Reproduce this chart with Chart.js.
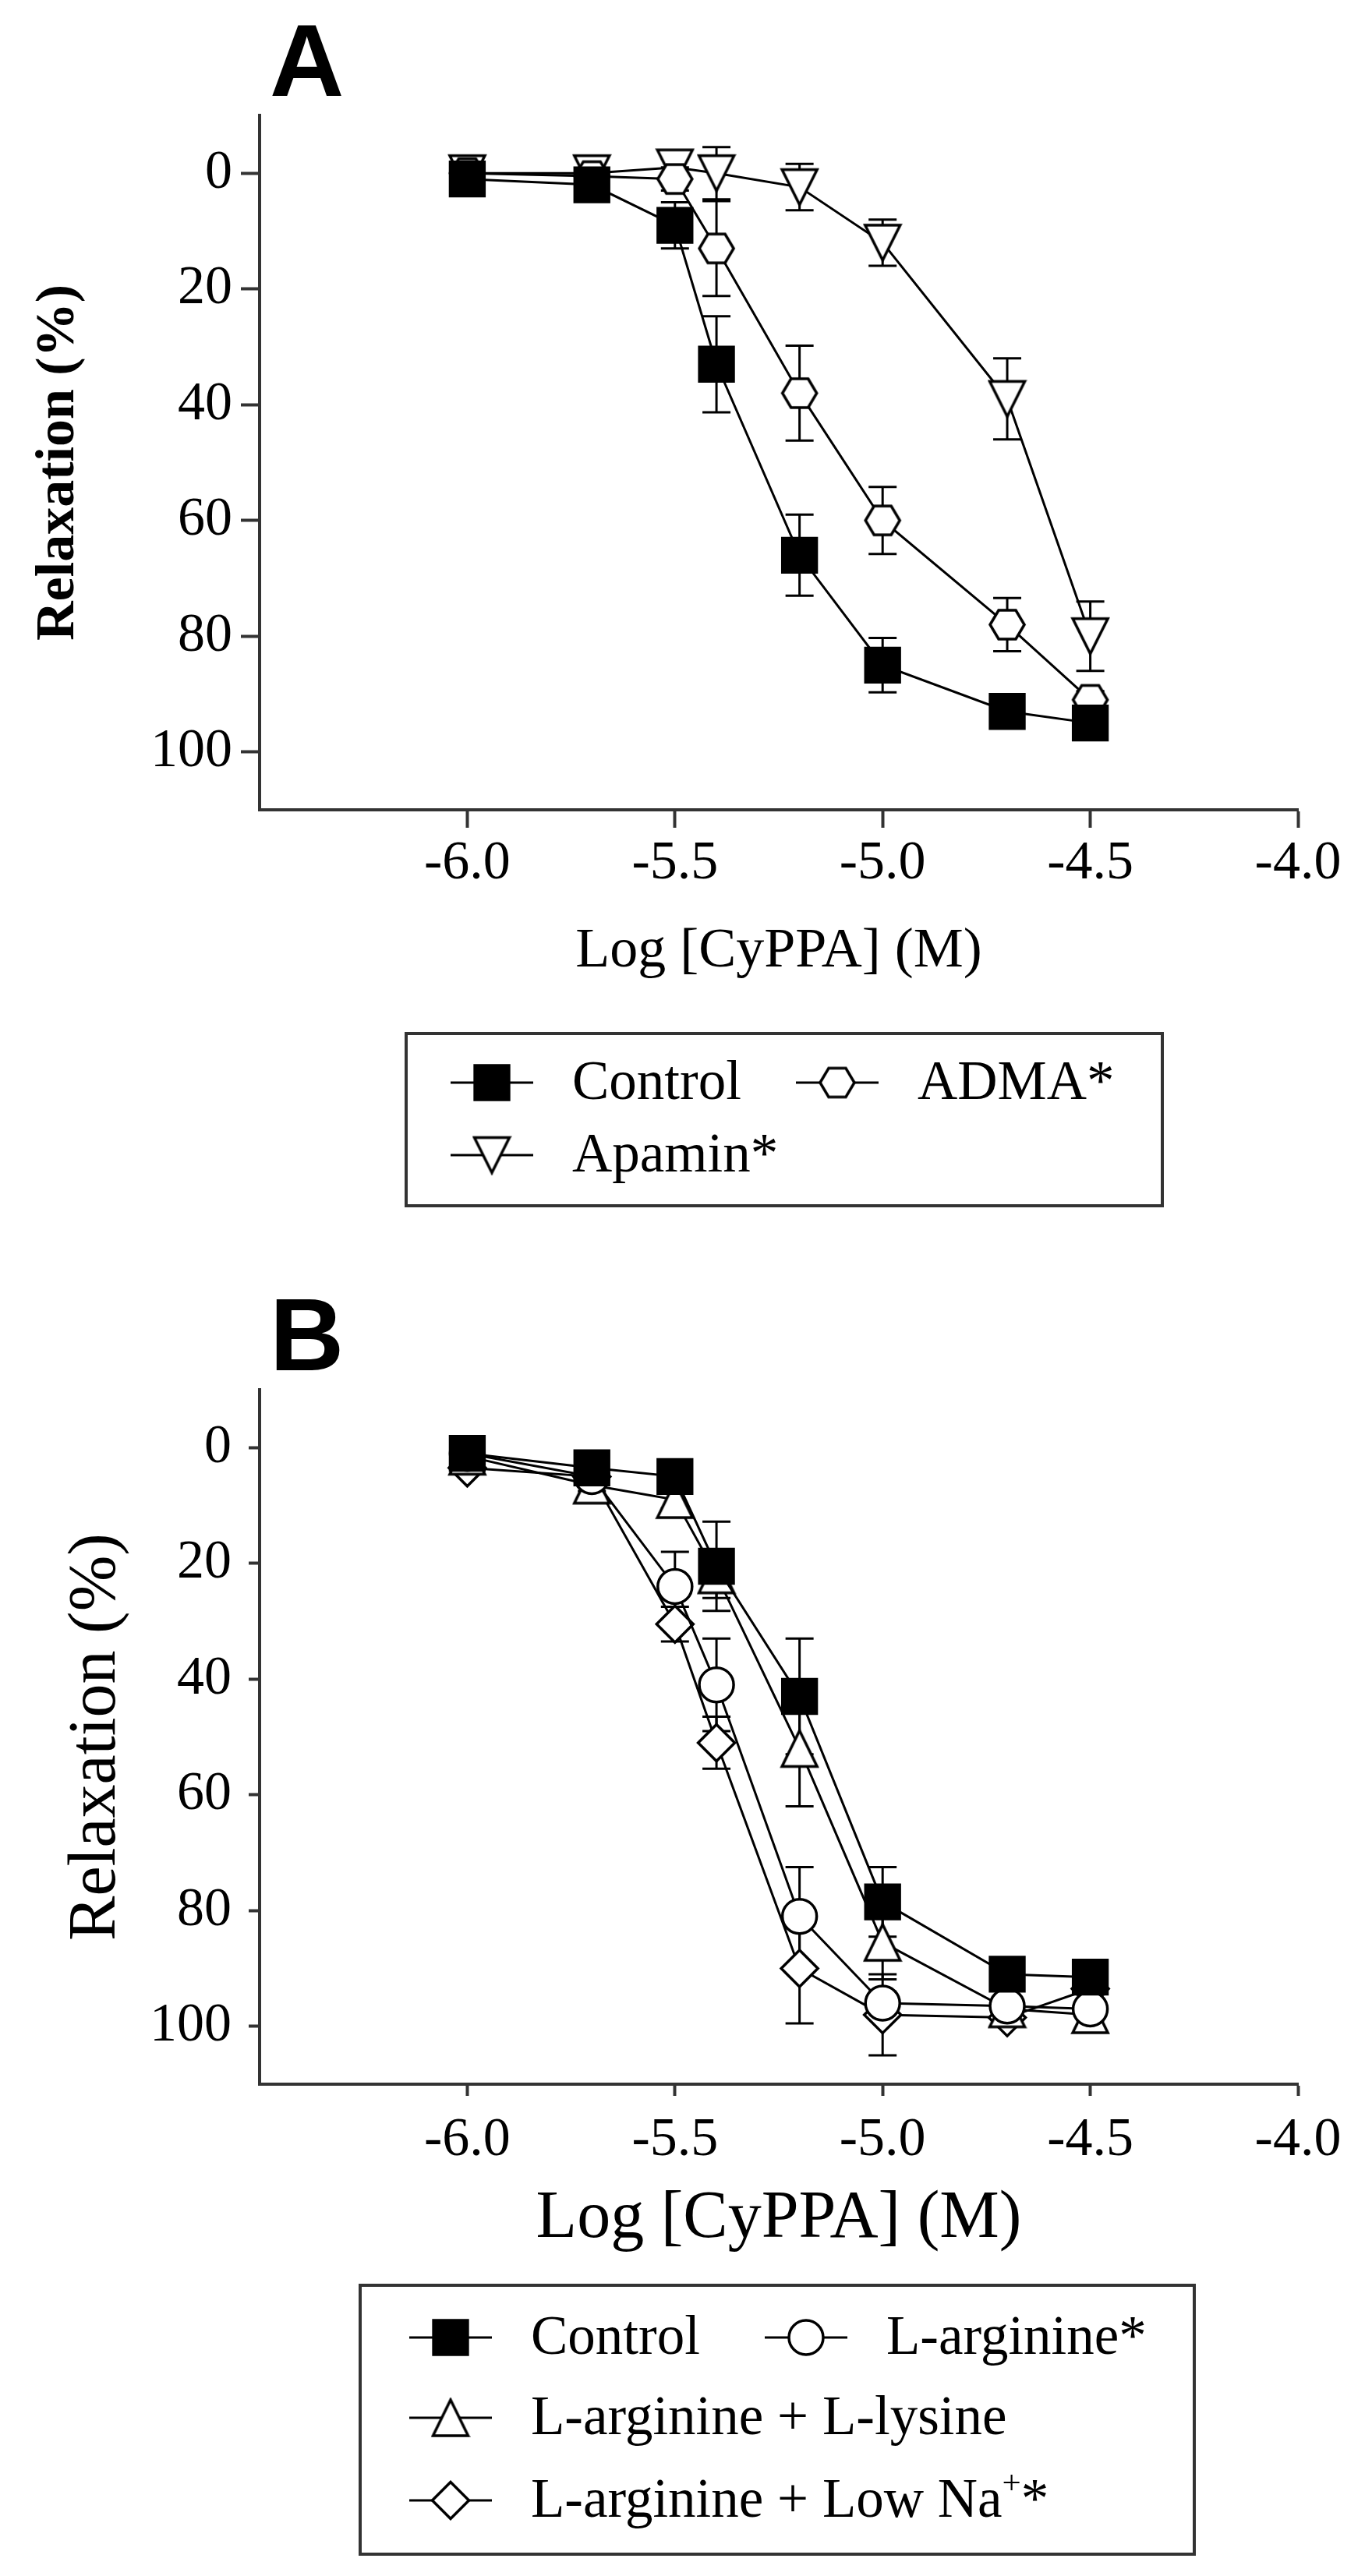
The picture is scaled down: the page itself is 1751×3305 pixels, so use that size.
<!DOCTYPE html>
<html>
<head>
<meta charset="utf-8">
<title>CyPPA relaxation</title>
<script src="https://cdn.jsdelivr.net/npm/chart.js@4.4.1/dist/chart.umd.min.js"></script>
<style>
  html, body { margin: 0; padding: 0; background: #fff; }
  body { width: 1751px; height: 3305px; position: relative; overflow: hidden; }
  canvas { position: absolute; left: 0; }
  #chartA { top: 0; }
  #chartB { top: 1635px; }
</style>
</head>
<body>
<canvas id="chartA" width="1751" height="1635"></canvas>
<canvas id="chartB" width="1751" height="1670"></canvas>
<script>
// ---------- data ----------
const logConc = [-6.0, -5.7, -5.5, -5.4, -5.2, -5.0, -4.7, -4.5];
const xTicks = [-6.0, -5.5, -5.0, -4.5, -4.0];
const yTicks = [0, 20, 40, 60, 80, 100];

// panel A: relaxation (%) and SEM
const controlA     = [1, 2, 9, 33, 66, 85, 93, 95];
const controlA_sem = [1, 1.5, 4, 8.3, 7, 4.7, 1.5, 1.5];
const admaA        = [0, 0.5, 1, 13, 38, 60, 78, 91];
const admaA_sem    = [1, 1, 2, 8.2, 8.2, 5.8, 4.6, 1.5];
const apaminA      = [0, 0, -1, 0, 2.4, 12, 39, 80];
const apaminA_sem  = [1, 1, 1.5, 4.5, 4, 4, 7, 6];

// panel B
const controlB     = [1, 3.5, 5, 20.5, 43, 78.5, 91, 91.5];
const controlB_sem = [1, 1.5, 1.5, 7.7, 10, 6, 1.5, 1.5];
const largB        = [1, 5, 24, 41, 81, 96, 96.5, 97];
const largB_sem    = [1, 1, 6, 8, 8.5, 2, 1, 1];
const largLysB     = [1.5, 6.5, 9, 22, 52, 85.5, 97, 98];
const largLysB_sem = [1, 1, 1.5, 4, 10, 6.4, 1, 1];
const largNaB      = [3.5, 5, 30.5, 51, 90, 98, 98.5, 93.5];
const largNaB_sem  = [1, 1, 3, 4.5, 9.5, 7, 1, 1];

// ---------- helpers ----------
const SERIF = '"Liberation Serif", "Times New Roman", serif';
const SANS = '"Liberation Sans", Arial, sans-serif';
const AXIS = '#333';

const pts = (vals) => logConc.map((x, i) => ({ x, y: vals[i] }));

// open marker drawn into a small canvas, centred on its bounding box
function markerImage(w, h, lw, path) {
  const c = document.createElement('canvas');
  c.width = Math.ceil(w + lw + 2);
  c.height = Math.ceil(h + lw + 2);
  const g = c.getContext('2d');
  g.translate(c.width / 2, c.height / 2);
  g.beginPath();
  path(g, w / 2, h / 2);
  g.closePath();
  g.lineJoin = 'miter';
  g.fillStyle = '#fff'; g.fill();
  g.lineWidth = lw; g.strokeStyle = '#000'; g.stroke();
  return c;
}
const hexagon = (g, a, b) => {
  g.moveTo(-a, 0); g.lineTo(-a / 2, -b); g.lineTo(a / 2, -b);
  g.lineTo(a, 0); g.lineTo(a / 2, b); g.lineTo(-a / 2, b);
};
const triDown = (g, a, b) => { g.moveTo(-a, -b); g.lineTo(a, -b); g.lineTo(0, b); };
const triUp = (g, a, b) => { g.moveTo(0, -b); g.lineTo(a, b); g.lineTo(-a, b); };

function series(label, vals, sem, marker) {
  return Object.assign({
    label,
    data: pts(vals),
    sem,
    showLine: true,
    borderColor: '#000',
    borderWidth: 3,
    pointBorderColor: '#000',
    pointBackgroundColor: '#fff',
    pointBorderWidth: 3.5,
    pointRotation: 0
  }, marker);
}

function drawMarker(ctx, ds, x, y) {
  if (!Chart.helpers || !Chart.helpers.drawPoint) return;
  ctx.save();
  ctx.fillStyle = ds.pointBackgroundColor;
  ctx.strokeStyle = ds.pointBorderColor;
  ctx.lineWidth = ds.pointBorderWidth;
  Chart.helpers.drawPoint(ctx, {
    pointStyle: ds.pointStyle, radius: ds.pointRadius,
    rotation: ds.pointRotation || 0, borderWidth: ds.pointBorderWidth
  }, x, y);
  ctx.restore();
}

// ---------- plugins ----------
const errorBars = {
  id: 'errorBars',
  beforeDatasetsDraw(chart, args, opts) {
    const { ctx, scales: { x, y } } = chart;
    ctx.save();
    ctx.strokeStyle = '#000';
    ctx.lineWidth = opts.width;
    chart.data.datasets.forEach((ds) => {
      if (!ds.sem) return;
      ds.data.forEach((p, j) => {
        const e = ds.sem[j];
        if (!e) return;
        const px = x.getPixelForValue(p.x);
        const top = y.getPixelForValue(p.y - e);
        const bot = y.getPixelForValue(p.y + e);
        ctx.beginPath();
        ctx.moveTo(px, top); ctx.lineTo(px, bot);
        ctx.moveTo(px - opts.cap, top); ctx.lineTo(px + opts.cap, top);
        ctx.moveTo(px - opts.cap, bot); ctx.lineTo(px + opts.cap, bot);
        ctx.stroke();
      });
    });
    ctx.restore();
  }
};

const boxLegend = {
  id: 'boxLegend',
  afterDraw(chart, args, opts) {
    const ctx = chart.ctx;
    const [bx, by, bw, bh] = opts.box;
    ctx.save();
    ctx.lineWidth = 4;
    ctx.strokeStyle = AXIS;
    ctx.strokeRect(bx, by, bw, bh);
    opts.items.forEach((it) => {
      const ds = chart.data.datasets[it.dataset];
      const cx = opts.cols[it.col], cy = opts.rows[it.row];
      ctx.lineWidth = 3;
      ctx.strokeStyle = '#000';
      ctx.beginPath();
      ctx.moveTo(cx - opts.lineHalf, cy);
      ctx.lineTo(cx + opts.lineHalf, cy);
      ctx.stroke();
      drawMarker(ctx, ds, cx, cy);

      // label, with a raised "+" where the label has a superscript plus
      ctx.fillStyle = '#000';
      ctx.textBaseline = 'middle';
      ctx.textAlign = 'left';
      let tx = cx + opts.textGap;
      const parts = ds.label.split('\u207A');
      parts.forEach((part, k) => {
        ctx.font = `${opts.size}px ${SERIF}`;
        ctx.fillText(part, tx, cy + 2);
        tx += ctx.measureText(part).width;
        if (k < parts.length - 1) {
          ctx.font = `${Math.round(opts.size * 0.6)}px ${SERIF}`;
          ctx.fillText('+', tx, cy - opts.size * 0.28);
          tx += ctx.measureText('+').width;
        }
      });
    });
    ctx.restore();
  }
};

const panelLetter = {
  id: 'panelLetter',
  afterDraw(chart, args, opts) {
    const ctx = chart.ctx;
    ctx.save();
    ctx.font = `bold ${opts.size}px ${SANS}`;
    ctx.fillStyle = '#000';
    ctx.textBaseline = 'alphabetic';
    ctx.textAlign = 'left';
    ctx.fillText(opts.text, opts.x, opts.y);
    ctx.restore();
  }
};

// ---------- chart builder ----------
function makeChart(id, datasets, p) {
  const canvasH = document.getElementById(id).height;
  return new Chart(document.getElementById(id), {
    type: 'scatter',
    data: { datasets },
    plugins: [errorBars, boxLegend, panelLetter],
    options: {
      responsive: false,
      animation: false,
      devicePixelRatio: 1,
      layout: { padding: { left: 0, right: 86, top: 148, bottom: 0 } },
      plugins: {
        legend: { display: false },
        tooltip: { enabled: false },
        errorBars: { cap: 18, width: 3 },
        boxLegend: p.legend,
        panelLetter: { text: p.letter, x: 346, y: 123, size: 132 }
      },
      scales: {
        x: {
          type: 'linear',
          min: -6.5,
          max: -4.0,
          afterBuildTicks: (s) => { s.ticks = xTicks.map((v) => ({ value: v })); },
          afterFit: (s) => { s.height = canvasH - 1039; },
          border: { display: true, color: AXIS, width: 4 },
          grid: { display: true, drawOnChartArea: false, drawTicks: true,
                  tickLength: p.xTickLen, tickWidth: 4, tickColor: AXIS },
          ticks: { autoSkip: false, maxRotation: 0, color: '#000', padding: p.xTickPad,
                   font: { family: SERIF, size: 70 }, callback: (v) => v.toFixed(1) },
          title: { display: true, text: 'Log [CyPPA] (M)', color: '#000',
                   font: { family: SERIF, size: p.xTitleSize },
                   padding: { top: 0, bottom: canvasH - p.xTitleMid - p.xTitleSize * 0.6 } }
        },
        y: {
          type: 'linear',
          reverse: true,
          min: -10,
          max: 110,
          afterBuildTicks: (s) => { s.ticks = yTicks.map((v) => ({ value: v })); },
          afterFit: (s) => { s.width = 333; },
          border: { display: true, color: AXIS, width: 4 },
          grid: { display: true, drawOnChartArea: false, drawTicks: true,
                  tickLength: p.yTickLen, tickWidth: 4, tickColor: AXIS },
          ticks: { autoSkip: false, color: '#000', padding: p.yTickPad,
                   font: { family: SERIF, size: 70 } },
          title: { display: true, text: 'Relaxation (%)', color: '#000',
                   font: { family: SERIF, size: p.yTitleSize, weight: p.yTitleWeight },
                   padding: { top: p.yTitleMid - p.yTitleSize * 0.6, bottom: 0 } }
        }
      }
    }
  });
}

// ---------- panel A ----------
const hexA = markerImage(44, 37, 3.5, hexagon);
const triDownA = markerImage(45, 45, 3.5, triDown);
makeChart('chartA', [
  series('Control', controlA, controlA_sem, { pointStyle: 'rect', pointRadius: 31, pointBackgroundColor: '#000' }),
  series('ADMA*', admaA, admaA_sem, { pointStyle: hexA, pointRadius: 22 }),
  series('Apamin*', apaminA, apaminA_sem, { pointStyle: triDownA, pointRadius: 23 })
], {
  letter: 'A',
  xTickLen: 23, xTickPad: 5, yTickLen: 24, yTickPad: 11,
  xTitleSize: 72, xTitleMid: 1221,
  yTitleSize: 70, yTitleWeight: 'bold', yTitleMid: 76,
  legend: {
    box: [521, 1326, 970, 221],
    rows: [1389, 1482],
    cols: [631, 1074],
    lineHalf: 53, textGap: 103, size: 71,
    items: [
      { dataset: 0, col: 0, row: 0 },
      { dataset: 1, col: 1, row: 0 },
      { dataset: 2, col: 0, row: 1 }
    ]
  }
});

// ---------- panel B ----------
const triUpB = markerImage(45, 46, 3.5, triUp);
makeChart('chartB', [
  series('Control', controlB, controlB_sem, { pointStyle: 'rect', pointRadius: 31, pointBackgroundColor: '#000' }),
  series('L-arginine*', largB, largB_sem, { pointStyle: 'circle', pointRadius: 22 }),
  series('L-arginine + L-lysine', largLysB, largLysB_sem, { pointStyle: triUpB, pointRadius: 23 }),
  series('L-arginine + Low Na\u207A*', largNaB, largNaB_sem, { pointStyle: 'rectRot', pointRadius: 23.5 })
], {
  letter: 'B',
  xTickLen: 15, xTickPad: 16, yTickLen: 14, yTickPad: 22,
  xTitleSize: 86, xTitleMid: 1212,
  yTitleSize: 86, yTitleWeight: 'normal', yTitleMid: 124,
  legend: {
    box: [462, 1297, 1070, 345],
    rows: [1364, 1467, 1573],
    cols: [578, 1034],
    lineHalf: 53, textGap: 103, size: 71,
    items: [
      { dataset: 0, col: 0, row: 0 },
      { dataset: 1, col: 1, row: 0 },
      { dataset: 2, col: 0, row: 1 },
      { dataset: 3, col: 0, row: 2 }
    ]
  }
});
</script>
</body>
</html>
